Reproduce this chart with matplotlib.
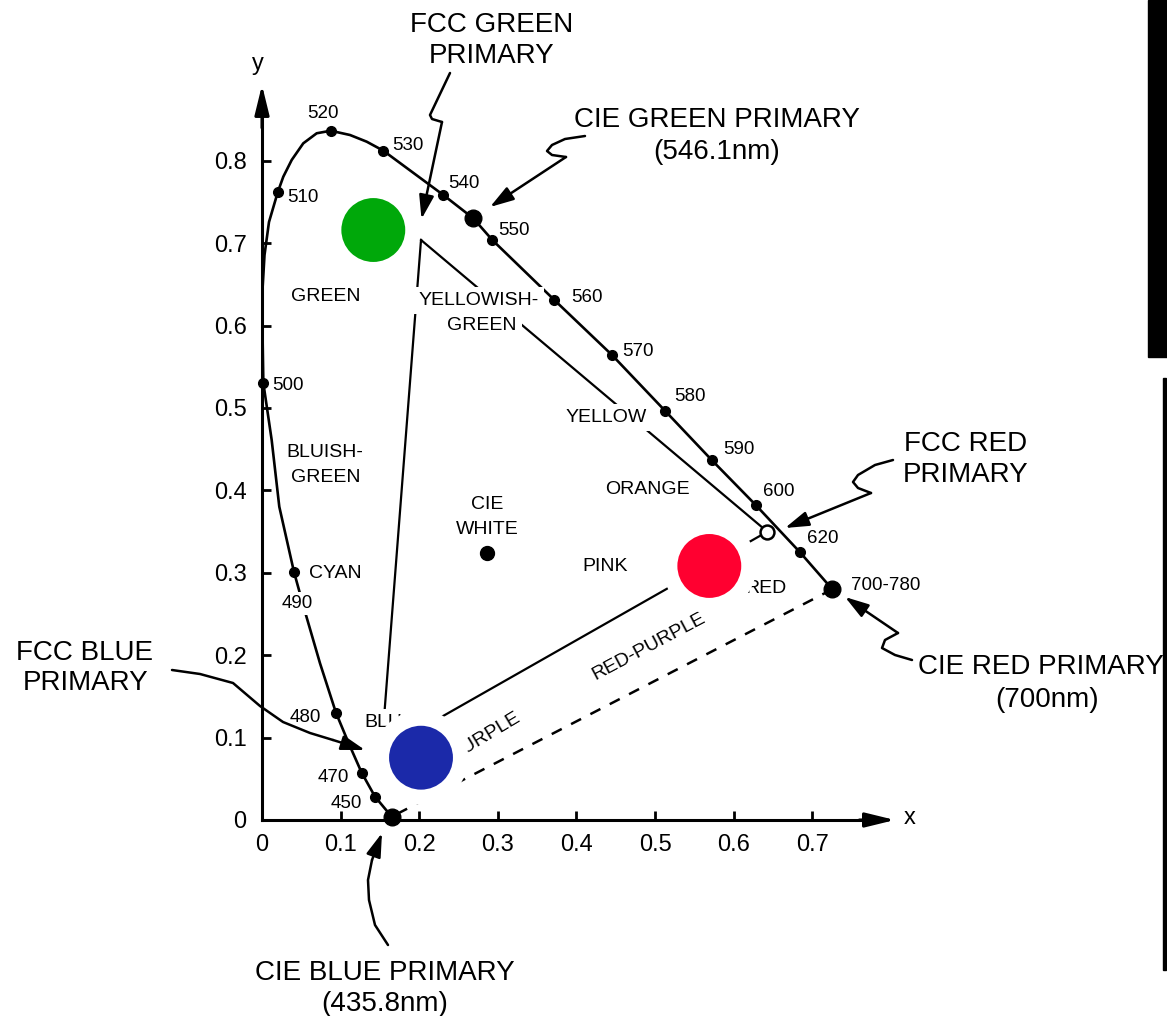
import matplotlib
matplotlib.use("Agg")
import matplotlib.pyplot as plt
from matplotlib.patches import Rectangle

plt.rcParams['font.family'] = ['Liberation Sans', 'DejaVu Sans']

W, H = 1167, 1016

# ---------------- data (chromaticity x, y) ----------------
locus_x = [0.1650, 0.1438, 0.1268, 0.1107, 0.0941, 0.0738, 0.0547, 0.0407, 0.0220,
           0.0123, 0.0017, 0.0006, 0.0006, 0.0032, 0.0089, 0.0200, 0.0271, 0.0378,
           0.0525, 0.0696, 0.0874, 0.1120, 0.1332, 0.1543, 0.2307, 0.2688, 0.2930,
           0.3719, 0.4453, 0.5127, 0.5721, 0.6281, 0.6845, 0.7256]
locus_y = [0.0040, 0.0283, 0.0574, 0.0922, 0.1302, 0.1902, 0.2528, 0.3010, 0.3802,
           0.4612, 0.5303, 0.5947, 0.6432, 0.6857, 0.7257, 0.7618, 0.7807, 0.8010,
           0.8212, 0.8334, 0.8365, 0.8313, 0.8232, 0.8123, 0.7585, 0.7302, 0.7039,
           0.6311, 0.5643, 0.4967, 0.4369, 0.3823, 0.3249, 0.2800]

wl_labels = ['450', '470', '480', '490', '500', '510', '520', '530', '540', '550',
             '560', '570', '580', '590', '600', '620']
wl_x = [0.1438, 0.1268, 0.0941, 0.0407, 0.0017, 0.0200, 0.0874, 0.1543, 0.2307,
        0.2930, 0.3719, 0.4453, 0.5127, 0.5721, 0.6281, 0.6845]
wl_y = [0.0283, 0.0574, 0.1302, 0.3010, 0.5303, 0.7618, 0.8365, 0.8123, 0.7585,
        0.7039, 0.6311, 0.5643, 0.4967, 0.4369, 0.3823, 0.3249]

# CIE primaries: blue 435.8nm, green 546.1nm, red 700nm
cie_x = [0.1650, 0.2688, 0.7256]
cie_y = [0.0040, 0.7302, 0.2800]

# FCC primaries: green, red, blue
fcc_x = [0.2023, 0.6429, 0.1520]
fcc_y = [0.7039, 0.3499, 0.0837]

white_x = [0.2859]
white_y = [0.3237]

# coloured discs: green, red, blue
disc_x = [0.1416, 0.5691, 0.2023]
disc_y = [0.7160, 0.3083, 0.0756]
disc_colors = ['#00a80a', '#ff0030', '#1b29a9']

xticks = [0, 0.1, 0.2, 0.3, 0.4, 0.5, 0.6, 0.7]
xtick_labels = ['0', '0.1', '0.2', '0.3', '0.4', '0.5', '0.6', '0.7']
yticks = [0, 0.1, 0.2, 0.3, 0.4, 0.5, 0.6, 0.7, 0.8]
ytick_labels = ['0', '0.1', '0.2', '0.3', '0.4', '0.5', '0.6', '0.7', '0.8']

# ---------------- figure ----------------
fig = plt.figure(figsize=(W / 100, H / 100), dpi=100)
ax = fig.add_axes([0, 0, 1, 1])
X0, SX, Y0, SY = 262, 786, 820, 824   # axis origin (px) and px per unit


def F(px, py):
    return px / W, 1 - py / H


def label(px, py, s, size, z=4, **kw):
    base = py + 0.358 * size * 100 / 72
    ax.text(px / W, 1 - base / H, s, transform=fig.transFigure, ha=kw.pop('ha', 'center'),
            va='baseline', fontsize=size, zorder=z, **kw)


def pointer(pts, lw=1.8):
    xs = [p[0] / W for p in pts[:-1]]
    ys = [1 - p[1] / H for p in pts[:-1]]
    ax.plot(xs, ys, transform=fig.transFigure, color='k', lw=lw, zorder=3,
            solid_capstyle='round', solid_joinstyle='round')
    ax.annotate('', xy=F(*pts[-1]), xytext=(xs[-1], ys[-1]),
                xycoords='figure fraction', textcoords='figure fraction',
                arrowprops=dict(arrowstyle='-|>,head_length=0.9,head_width=0.28',
                                mutation_scale=16, color='k', lw=lw,
                                shrinkA=0, shrinkB=0), zorder=3)


# spectral locus
ax.plot(locus_x, locus_y, color='k', lw=1.9, zorder=2, solid_joinstyle='round')
# line of purples (dashed) between CIE red and CIE blue
ax.plot([cie_x[2], cie_x[0]], [cie_y[2], cie_y[0]], color='k', lw=1.8,
        dashes=(4.5, 4.2), zorder=2)
# FCC triangle
tri_x = fcc_x + [fcc_x[0]]
tri_y = fcc_y + [fcc_y[0]]
ax.plot(tri_x, tri_y, color='k', lw=1.6, zorder=2)

# dots
ax.plot(wl_x, wl_y, 'o', color='k', ms=7, zorder=7, clip_on=False)
ax.plot(cie_x, cie_y, 'o', color='k', ms=12, zorder=7, clip_on=False)
ax.plot(white_x, white_y, 'o', color='k', ms=10, zorder=7)

# white halos + coloured discs
ax.scatter(disc_x, disc_y, s=68 ** 2, color='white', edgecolors='none', zorder=5)
ax.scatter(disc_x, disc_y, s=46 ** 2, color=disc_colors, edgecolors='none', zorder=6)

# FCC red primary marker (open circle)
ax.plot([fcc_x[1]], [fcc_y[1]], 'o', ms=10, mfc='white', mec='k', mew=1.8, zorder=8)

# axes
for s in ['top', 'right']:
    ax.spines[s].set_visible(False)
ax.spines['left'].set_position(('data', 0))
ax.spines['bottom'].set_position(('data', 0))
ax.spines['left'].set_bounds(0, 0.86)
ax.spines['bottom'].set_bounds(0, 0.78)
for s in ['left', 'bottom']:
    ax.spines[s].set_linewidth(2.2)
ax.set_xticks(xticks, xtick_labels)
ax.set_yticks(yticks, ytick_labels)
ax.tick_params(axis='x', direction='in', length=6.5, width=2, pad=10, labelsize=17)
ax.tick_params(axis='y', direction='in', length=6.5, width=2, pad=11, labelsize=17)
arrow_ax = dict(arrowstyle='-|>,head_length=0.9,head_width=0.22', mutation_scale=20,
                color='k', lw=2.2, shrinkA=0, shrinkB=0)
ax.annotate('', xy=(0.8053, 0), xytext=(0.76, 0), arrowprops=arrow_ax)
ax.annotate('', xy=(0, 0.892), xytext=(0, 0.84), arrowprops=arrow_ax)
label(258, 62, 'y', 17)
label(910, 816, 'x', 17)

# wavelength labels
wl_pos = [(346, 801.7), (333, 775), (305, 715.6), (297, 601), (288, 383.5), (303, 195),
          (323, 111.7), (408, 143), (464, 181.7), (514, 228), (587, 295.7), (638, 349),
          (690, 394), (739, 447.5), (779, 489), (822.5, 535.8)]
for s, (px, py) in zip(wl_labels, wl_pos):
    kw = {}
    if s == '490':
        kw['bbox'] = dict(facecolor='white', edgecolor='none', pad=2)
    label(px, py, s, 13.5, **kw)
label(886, 583.5, '700-780', 13.5)

# region labels
wb = dict(facecolor='white', edgecolor='none', pad=3.5)
label(326, 294, 'GREEN', 14)
label(479, 298, 'YELLOWISH-', 14, bbox=wb)
label(482, 323, 'GREEN', 14, bbox=wb)
label(606, 415, 'YELLOW', 14, bbox=wb)
label(647, 487.5, 'ORANGE', 14)
label(605, 564, 'PINK', 14)
label(766, 586.5, 'RED', 14)
label(325, 450, 'BLUISH-', 14)
label(326, 475, 'GREEN', 14)
label(487, 502, 'CIE', 14)
label(487, 527, 'WHITE', 14)
label(335, 571, 'CYAN', 14)
label(390, 720, 'BLUE', 14, bbox=wb)
ax.text(*F(485, 736), 'PURPLE', transform=fig.transFigure, fontsize=14, rotation=31,
        ha='center', va='center', rotation_mode='anchor', zorder=4)
ax.text(*F(649, 647), 'RED-PURPLE', transform=fig.transFigure, fontsize=14, rotation=28,
        ha='center', va='center', rotation_mode='anchor', zorder=4)

# annotation labels
label(492, 21.7, 'FCC GREEN', 20)
label(492, 53.3, 'PRIMARY', 20)
label(717, 116.7, 'CIE GREEN PRIMARY', 20)
label(717, 149, '(546.1nm)', 20)
label(966, 441, 'FCC RED', 20)
label(966, 472, 'PRIMARY', 20)
label(918, 664, 'CIE RED PRIMARY', 20, ha='left')
label(1047, 697, '(700nm)', 20)
label(85, 650, 'FCC BLUE', 20)
label(86, 680, 'PRIMARY', 20)
label(385, 970, 'CIE BLUE PRIMARY', 20)
label(385, 1001, '(435.8nm)', 20)

# pointer arrows
pointer([(450, 73), (430, 115), (432, 119), (442, 122), (421.5, 219)])
pointer([(585, 136), (565, 139), (552, 145), (547, 151), (552, 155), (566, 157), (490, 207)])
pointer([(893, 460), (875, 465), (858, 475), (853, 482), (858, 488), (871, 493), (785, 528)])
pointer([(912, 660), (895, 655), (882, 648), (885, 640), (898, 633), (845, 597)])
pointer([(172, 670), (200, 674), (233, 683), (260, 706), (283, 722), (310, 733),
         (333, 740), (365, 750)])
pointer([(388, 945), (375, 925), (369, 900), (368, 880), (372, 860), (382, 833)])

# scan border artefacts
fig.patches.append(Rectangle((1148 / W, 1 - 357 / H), 19 / W, 357 / H,
                             transform=fig.transFigure, color='k'))
fig.patches.append(Rectangle((1163 / W, 1 - 970 / H), 3 / W, 592 / H,
                             transform=fig.transFigure, color='k'))

ax.set_xlim(-X0 / SX, (W - X0) / SX)
ax.set_ylim((Y0 - H) / SY, Y0 / SY)
fig.savefig('out.png', dpi=100)
